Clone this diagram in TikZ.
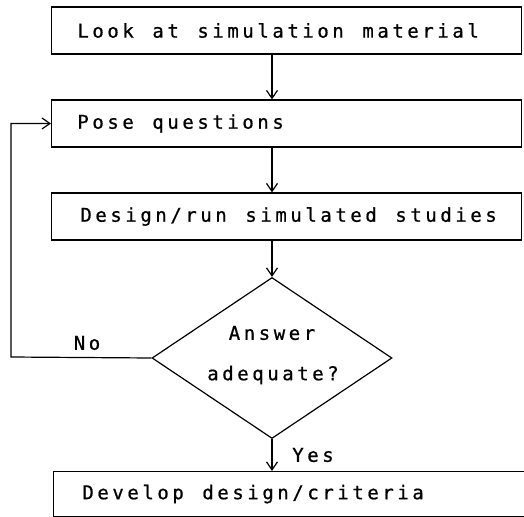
\documentclass[tikz,border=0pt]{standalone}
\usepackage{fontspec}
\newfontfamily\plotfont[FakeBold=0.8]{DejaVu Sans Mono}
\ExplSyntaxOn
\NewDocumentCommand\mono{m}{\str_map_inline:nn{#1}{\makebox[15pt]{##1}}}
\ExplSyntaxOff
\newcommand\pfont{\plotfont\fontsize{19pt}{23pt}\selectfont}
\usetikzlibrary{shapes.geometric,arrows.meta}
\begin{document}
\begin{tikzpicture}[x=1pt,y=-1pt,
  every node/.style={font=\pfont},
  box/.style={draw,line width=1.2pt,anchor=west,minimum height=47pt,
    inner xsep=24pt,inner ysep=0pt,text width=422pt,align=left},
  dec/.style={draw,line width=1.2pt,diamond,minimum width=240pt,minimum height=161pt,
    aspect=1.49,inner sep=0pt,align=center},
  arr/.style={line width=1.2pt,-{Straight Barb[length=8pt,width=11pt]}},
  lbl/.style={inner sep=0pt}]
\useasboundingbox (0,0) rectangle (524,516);
\node[box] (b1) at (51,30.5) {\mono{Look at simulation material}};
\node[box] (b2) at (51,123.5) {\mono{Pose questions}};
\node[box,inner xsep=27pt,text width=416pt] (b3) at (51,216.5) {\mono{Design/run simulated studies}};
\node[dec] (dia) at (272,358) {};
\node[lbl] (t1) at (272,333) {\mono{Answer}};
\node[lbl] (t2) at (273,375) {\mono{adequate?}};
\node[box,minimum height=45pt,inner xsep=27pt,text width=434pt] (b4) at (53,494) {\mono{Develop design/criteria}};
\coordinate (lp) at (11,357);
\draw[arr] (dia.north |- b1.south) -- (dia.north |- b2.north);
\draw[arr] (dia.north |- b2.south) -- (dia.north |- b3.north);
\draw[arr] (dia.north |- b3.south) -- (dia.north);
\draw[arr] (dia.south) -- (dia.south |- b4.north);
\draw[arr] (dia.west) -- (lp) |- (b2.west);
\node[lbl] (no) at (87,343) {\mono{No}};
\node[lbl] (yes) at (313,455) {\mono{Yes}};
\end{tikzpicture}
\end{document}
